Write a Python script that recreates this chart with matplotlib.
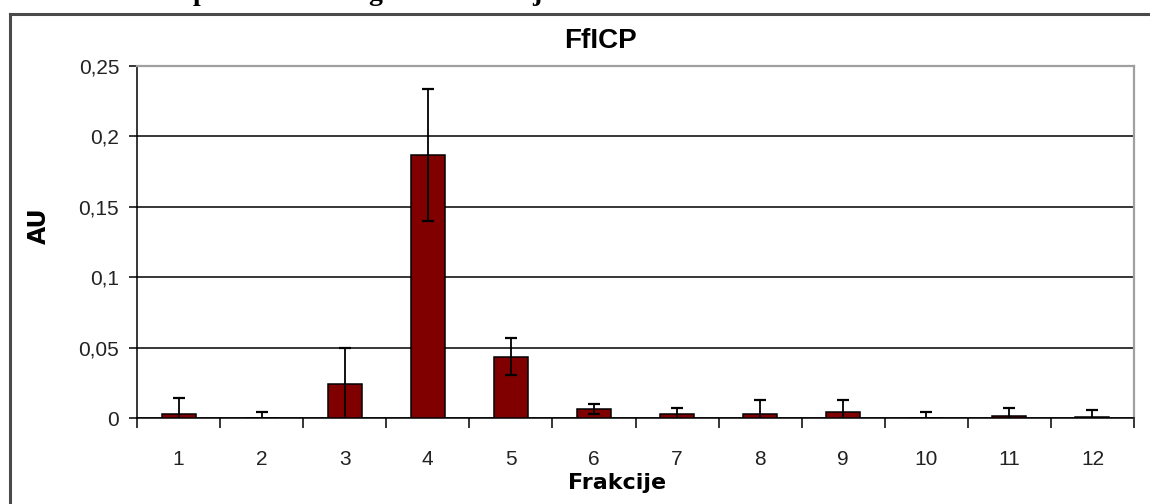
import matplotlib
matplotlib.use("Agg")
import matplotlib.pyplot as plt
from matplotlib.lines import Line2D
from matplotlib.ticker import FixedLocator, FixedFormatter

# Fractions and measured absorbance (mean and error)
fractions = ["1", "2", "3", "4", "5", "6", "7", "8", "9", "10", "11", "12"]
au_mean = [0.003, 0.0, 0.024, 0.187, 0.0435, 0.0065, 0.0027, 0.0027,
           0.0045, 0.0, 0.0012, 0.0010]
au_err = [0.011, 0.004, 0.026, 0.047, 0.0133, 0.0035, 0.0043, 0.0101,
          0.0085, 0.0043, 0.0058, 0.0045]
y_ticks = [0, 0.05, 0.1, 0.15, 0.2, 0.25]
y_tick_labels = ["0", "0,05", "0,1", "0,15", "0,2", "0,25"]

W, H = 1150, 504
fig = plt.figure(figsize=(W / 100, H / 100), dpi=100)
fig.patch.set_facecolor("white")


def fx(px):
    return px / W


def fy(py):
    return 1 - py / H


# Chart-area frame (top and left edges)
frame_color = "#4a4a4a"
fig.add_artist(Line2D([fx(10), 1.01], [fy(14), fy(14)], color=frame_color,
                      lw=2.2, transform=fig.transFigure))
fig.add_artist(Line2D([fx(10), fx(10)], [fy(14), -0.01], color=frame_color,
                      lw=2.2, transform=fig.transFigure))

# Descenders of the caption line above the chart
for cx, ch in [(200, "p"), (375, "g"), (537, "j")]:
    fig.text(fx(cx), fy(0), ch, ha="center", va="baseline", fontsize=20,
             fontweight="bold", family="Liberation Serif", color="black")

ax = fig.add_axes([fx(137), fy(418), fx(1134) - fx(137), fy(66) - fy(418)])
x = list(range(1, len(fractions) + 1))

ax.bar(x, au_mean, width=0.41, color="#800000", edgecolor="black",
       linewidth=1.1, zorder=3)
ax.errorbar(x, au_mean, yerr=au_err, fmt="none", ecolor="black",
            elinewidth=1.3, capsize=4, capthick=1.6, zorder=4)

ax.set_xlim(0.5, len(fractions) + 0.5)
ax.set_ylim(0, 0.25)

ax.yaxis.set_major_locator(FixedLocator(y_ticks))
ax.yaxis.set_major_formatter(FixedFormatter(y_tick_labels))
ax.xaxis.set_major_locator(FixedLocator(x))
ax.xaxis.set_major_formatter(FixedFormatter(fractions))
ax.xaxis.set_minor_locator(FixedLocator([i + 0.5 for i in range(0, len(fractions) + 1)]))

ax.set_axisbelow(True)
ax.yaxis.grid(True, color="black", lw=1.1)

ax.tick_params(axis="y", which="major", direction="out", length=5.8,
               width=1.1, pad=7, labelsize=15, labelcolor="#222222")
ax.tick_params(axis="x", which="major", length=0, pad=23, labelsize=15,
               labelcolor="#222222")
ax.tick_params(axis="x", which="minor", direction="out", length=7.2,
               width=1.1)
for lab in ax.get_xticklabels() + ax.get_yticklabels():
    lab.set_family("Liberation Sans")

for side in ("left", "bottom"):
    ax.spines[side].set_color("black")
    ax.spines[side].set_linewidth(1.1)
for side in ("top", "right"):
    ax.spines[side].set_color("#a0a0a0")
    ax.spines[side].set_linewidth(1.6)

fig.text(fx(600), fy(41), "FfICP", ha="center", va="center", fontsize=20,
         fontweight="bold", family="Liberation Sans", color="black")
fig.text(fx(617), fy(483), "Frakcije", ha="center", va="center", fontsize=16,
         fontweight="bold", family="DejaVu Sans", color="black")
fig.text(fx(39), fy(226), "AU", ha="center", va="center", rotation=90,
         fontsize=17, fontweight="bold", family="DejaVu Sans", color="black")

fig.savefig("out.png", dpi=100, facecolor="white")
